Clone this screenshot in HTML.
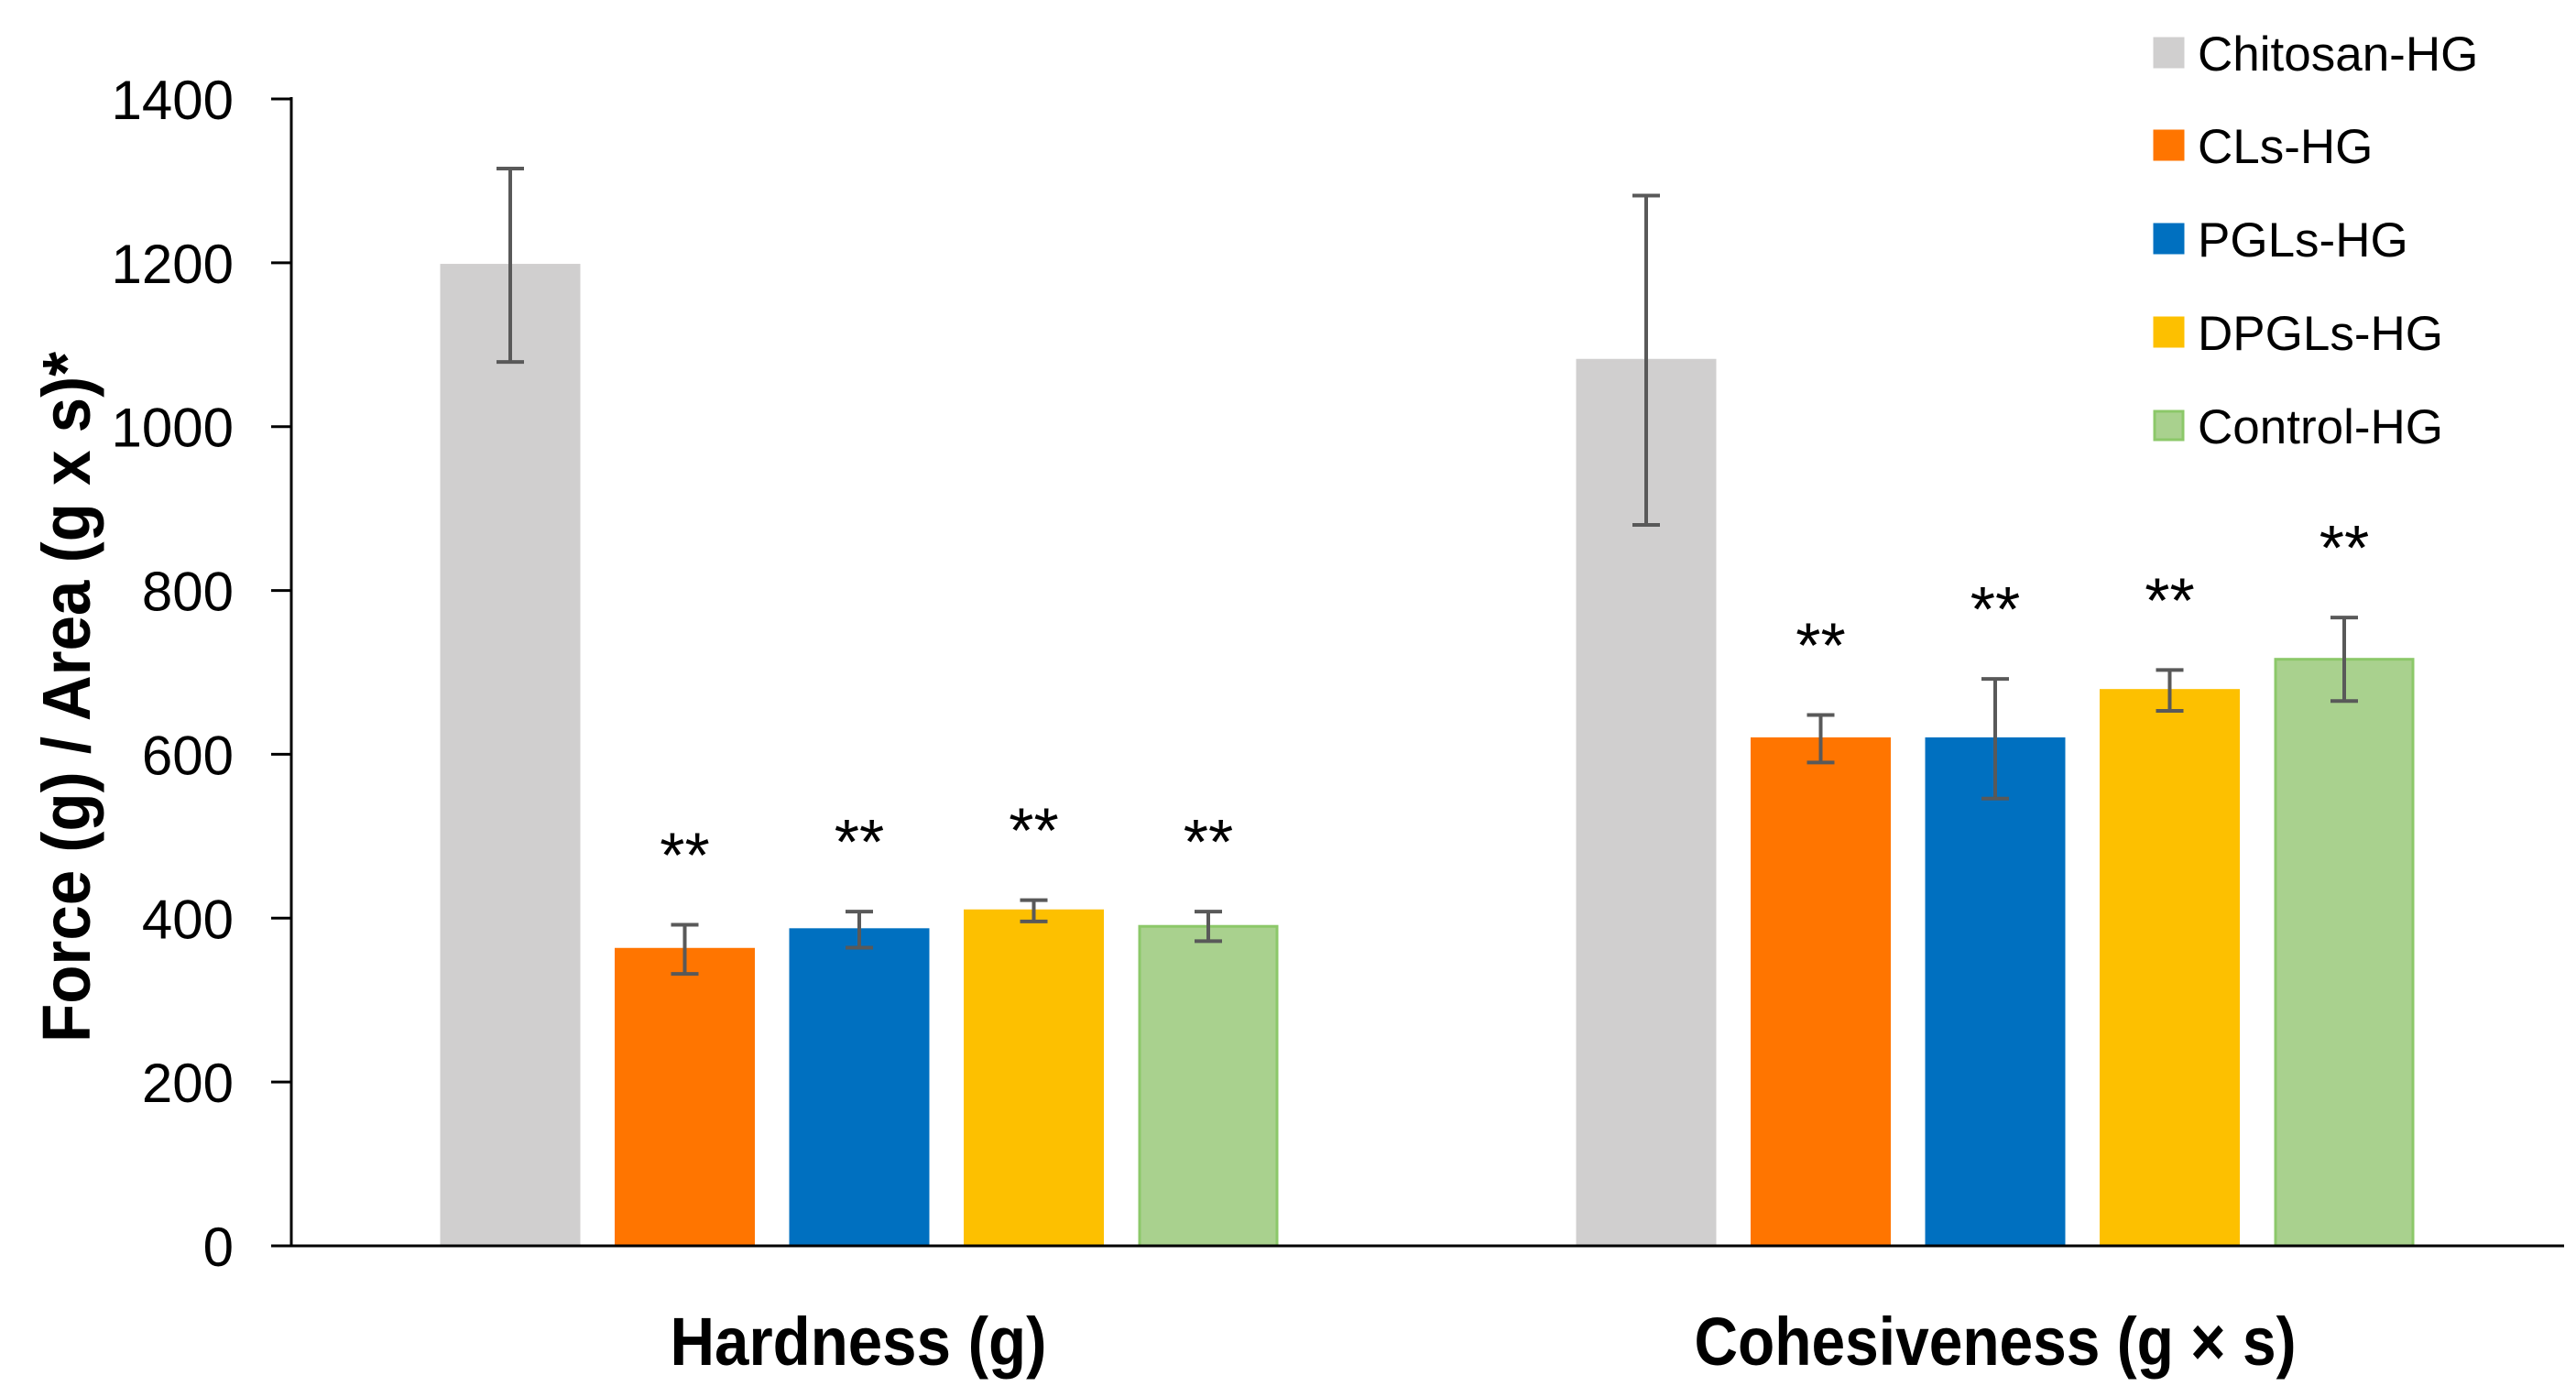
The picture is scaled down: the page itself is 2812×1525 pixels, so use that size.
<!DOCTYPE html>
<html><head><meta charset="utf-8"><style>
body{margin:0;background:#fff;}
svg{display:block;font-family:"Liberation Sans",sans-serif;}
</style></head><body>
<svg id="chart" width="2812" height="1525" viewBox="0 0 2812 1525" xmlns="http://www.w3.org/2000/svg"></svg>
<script>
const categories = ["Hardness (g)", "Cohesiveness (g × s)"];
const seriesNames = ["Chitosan-HG", "CLs-HG", "PGLs-HG", "DPGLs-HG", "Control-HG"];
const chitosanValues = [1197, 1081];
const clsValues = [362, 619];
const pglsValues = [386, 619];
const dpglsValues = [409, 678];
const controlValues = [390, 716];
const chitosanErr = [118, 201];
const clsErr = [30, 29];
const pglsErr = [22, 73];
const dpglsErr = [13, 25];
const controlErr = [18, 51];
const significance = [["", "**", "**", "**", "**"], ["", "**", "**", "**", "**"]];
const yTicks = [0, 200, 400, 600, 800, 1000, 1200, 1400];

const values = [chitosanValues, clsValues, pglsValues, dpglsValues, controlValues];
const errs = [chitosanErr, clsErr, pglsErr, dpglsErr, controlErr];
const fills = ["#d0cfcf", "#ff7500", "#0070c0", "#fdc000", "#a9d18e"];
const strokes = ["#d0cfcf", "#ff7500", "#0070c0", "#fdc000", "#8cc869"];

const svg = document.getElementById('chart');
const NS = "http://www.w3.org/2000/svg";
const x0 = 318, y0 = 1360, yTop = 108, yMax = 1400, xEnd = 2799;
const y = v => y0 - (v / yMax) * (y0 - yTop);
const groupStart = [482, 1722];
const pitch = 190.5, barW = 150;
const groupCenter = [937, 2178];
const labelLen = [411, 657];

function mk(tag, attrs, parent) {
  const e = document.createElementNS(NS, tag);
  for (const k in attrs) e.setAttribute(k, attrs[k]);
  (parent || svg).appendChild(e);
  return e;
}

yTicks.forEach((t) => {
  const l = mk('line', {x1: 296, x2: x0, y1: y(t), y2: y(t), stroke: '#000', 'stroke-width': 3});
  
  
  const tx = mk('text', {x: 255, y: y(t) + 22, 'text-anchor': 'end', 'font-size': 60, fill: '#000'});
  tx.textContent = t;
  
  
});

categories.forEach((c, gi) => {
  values.forEach((arr, si) => {
    const v = arr[gi], e = errs[si][gi];
    const bx = groupStart[gi] + si * pitch;
    const r = mk('rect', {x: bx, y: y(v), width: barW, height: y0 - y(v), fill: fills[si], stroke: strokes[si], 'stroke-width': 3});
    
    
    const cx = bx + barW / 2;
    const eg = mk('g', {stroke: '#595959', 'stroke-width': 4});
    
    
    mk('line', {x1: cx, x2: cx, y1: y(v + e), y2: y(v - e)}, eg);
    mk('line', {x1: cx - 15, x2: cx + 15, y1: y(v + e), y2: y(v + e)}, eg);
    mk('line', {x1: cx - 15, x2: cx + 15, y1: y(v - e), y2: y(v - e)}, eg);
    const s = significance[gi][si];
    if (s) {
      const st = mk('text', {x: cx, y: y(v + e) - 52, 'text-anchor': 'middle', 'font-size': 70, fill: '#000'});
      st.textContent = s;
      
      
    }
  });
  const ct = mk('text', {x: groupCenter[gi], y: 1490, 'text-anchor': 'middle', 'font-size': 74, 'font-weight': 'bold', fill: '#000', textLength: labelLen[gi], lengthAdjust: 'spacingAndGlyphs'});
  ct.textContent = c;
  
  
});

const ya = mk('line', {x1: x0, x2: x0, y1: yTop - 2, y2: y0, stroke: '#000', 'stroke-width': 3});


const xa = mk('line', {x1: 296, x2: xEnd, y1: y0, y2: y0, stroke: '#000', 'stroke-width': 3});



const yt = mk('text', {x: 0, y: 0, transform: 'translate(98,761) rotate(-90)', 'text-anchor': 'middle', 'font-size': 74, 'font-weight': 'bold', fill: '#000', textLength: 754, lengthAdjust: 'spacingAndGlyphs'});
yt.textContent = 'Force (g) / Area (g x s)*';



const legendY = [58, 159, 261, 363, 465];
seriesNames.forEach((n, i) => {
  const g = mk('g', {});
  
  
  mk('rect', {x: 2352, y: legendY[i] - 16, width: 31, height: 31, fill: fills[i], stroke: strokes[i], 'stroke-width': 3}, g);
  const t = mk('text', {x: 2399, y: legendY[i] + 19, 'font-size': 53, fill: '#000'}, g);
  t.textContent = n;
});
</script>
</body></html>
